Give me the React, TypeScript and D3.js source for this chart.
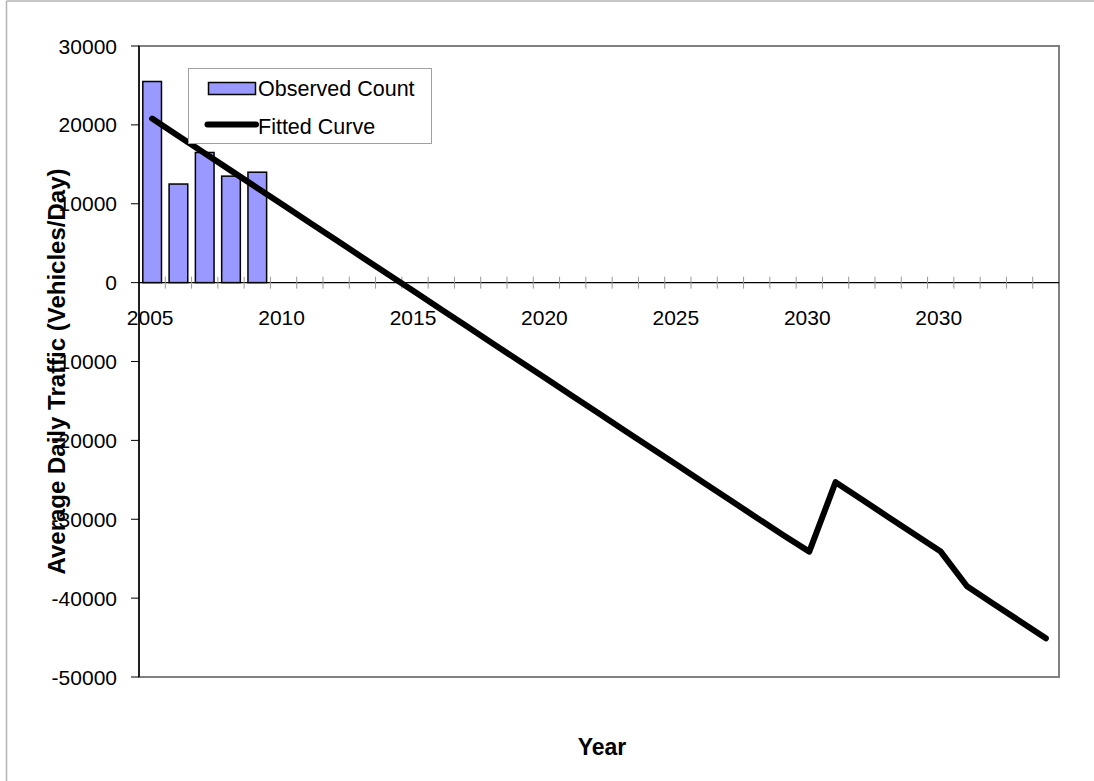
import React from "react";
import * as d3 from "d3";

const categories: string[] = [
  "2005", "2006", "2007", "2008", "2009", "2010", "2011", "2012", "2013", "2014",
  "2015", "2016", "2017", "2018", "2019", "2020", "2021", "2022", "2023", "2024",
  "2025", "2026", "2027", "2028", "2029", "2030", "2026", "2027", "2028", "2029",
  "2030", "2032", "2033", "2034", "2035",
];
const observedCount: (number | null)[] = [25500, 12500, 16500, 13500, 14000];
const fittedCurve: number[] = [
  20800, 18600, 16400, 14200, 12000, 9800, 7600, 5400, 3200, 1000,
  -1200, -3400, -5600, -7800, -10000, -12200, -14400, -16600, -18800, -21000,
  -23200, -25400, -27600, -29800, -32000, -34100, -25300, -27500, -29700, -31900,
  -34100, -38500, -40700, -42900, -45100,
];
const yTicks: number[] = [30000, 20000, 10000, 0, -10000, -20000, -30000, -40000, -50000];
const labelEvery = 5;

const W = 1094;
const H = 781;
const plot = { left: 139, right: 1059, top: 46, bottom: 677 };
const FONT = "'Liberation Sans', Arial, sans-serif";

export default function App() {
  const idx = categories.map((_, i) => i);
  const x = d3
    .scaleBand<number>()
    .domain(idx)
    .range([plot.left, plot.right])
    .padding(0);
  const bw = x.bandwidth();
  const cx = (i: number) => (x(i) as number) + bw / 2;
  const y = d3.scaleLinear().domain([-50000, 30000]).range([plot.bottom, plot.top]);
  const barW = bw * 0.71;

  const line = d3
    .line<number>()
    .x((_, i) => cx(i))
    .y((d) => y(d));

  const y0 = y(0);

  return (
    <svg
      width={W}
      height={H}
      style={{ position: "absolute", left: 0, top: 0, background: "#fff" }}
      fontFamily={FONT}
    >
      {/* outer frame */}
      <line x1={6.5} y1={1} x2={6.5} y2={H} stroke="#b3b3b3" strokeWidth={1.5} />
      <line x1={6.5} y1={1} x2={W} y2={1} stroke="#b3b3b3" strokeWidth={1.5} />

      {/* plot area border */}
      <rect
        x={plot.left}
        y={plot.top}
        width={plot.right - plot.left}
        height={plot.bottom - plot.top}
        fill="#fff"
        stroke="#808080"
        strokeWidth={2}
      />

      {/* bars */}
      {observedCount.map((v, i) =>
        v == null ? null : (
          <rect
            key={"b" + i}
            x={cx(i) - barW / 2}
            y={Math.min(y(v), y0)}
            width={barW}
            height={Math.abs(y0 - y(v))}
            fill="#9999ff"
            stroke="#000"
            strokeWidth={1.5}
          />
        )
      )}

      {/* x axis at zero */}
      <line x1={plot.left} y1={y0} x2={plot.right} y2={y0} stroke="#000" strokeWidth={1.3} />
      {idx.slice(1).map((i) => (
        <line
          key={"xt" + i}
          x1={x(i) as number}
          x2={x(i) as number}
          y1={y0 - 6}
          y2={y0 + 6}
          stroke="#999"
          strokeWidth={1}
        />
      ))}
      {idx
        .filter((i) => i % labelEvery === 0)
        .map((i) => (
          <text
            key={"xl" + i}
            x={cx(i) - 2}
            y={y0 + 42}
            textAnchor="middle"
            fontSize={21}
            fill="#000"
          >
            {categories[i]}
          </text>
        ))}

      {/* y axis */}
      <line x1={plot.left} y1={plot.top} x2={plot.left} y2={plot.bottom} stroke="#000" strokeWidth={1.5} />
      {yTicks.map((t) => (
        <g key={"yt" + t}>
          <line x1={plot.left - 8} x2={plot.left} y1={y(t)} y2={y(t)} stroke="#000" strokeWidth={1} />
          <text x={117} y={y(t) + 7.5} textAnchor="end" fontSize={21} fill="#000">
            {t}
          </text>
        </g>
      ))}

      {/* fitted curve */}
      <path
        d={line(fittedCurve) || ""}
        fill="none"
        stroke="#000"
        strokeWidth={6}
        strokeLinejoin="round"
        strokeLinecap="round"
      />

      {/* legend */}
      <rect x={188.5} y={68.5} width={243} height={75} fill="#fff" stroke="#a0a0a0" strokeWidth={1} />
      <rect x={208.5} y={82.5} width={47} height={12} fill="#9999ff" stroke="#000" strokeWidth={1.5} />
      <text x={258} y={96} fontSize={21.5} fill="#000">Observed Count</text>
      <line x1={207.5} y1={124.5} x2={256} y2={124.5} stroke="#000" strokeWidth={6} strokeLinecap="round" />
      <text x={258} y={134} fontSize={21.5} fill="#000">Fitted Curve</text>

      {/* axis titles */}
      <text
        transform={`translate(65, ${(plot.top + plot.bottom) / 2 + 10}) rotate(-90)`}
        textAnchor="middle"
        fontSize={24}
        fontWeight="bold"
        fill="#000"
      >
        Average Daily Traffic (Vehicles/Day)
      </text>
      <text x={602} y={755} textAnchor="middle" fontSize={23} fontWeight="bold" fill="#000">
        Year
      </text>
    </svg>
  );
}
